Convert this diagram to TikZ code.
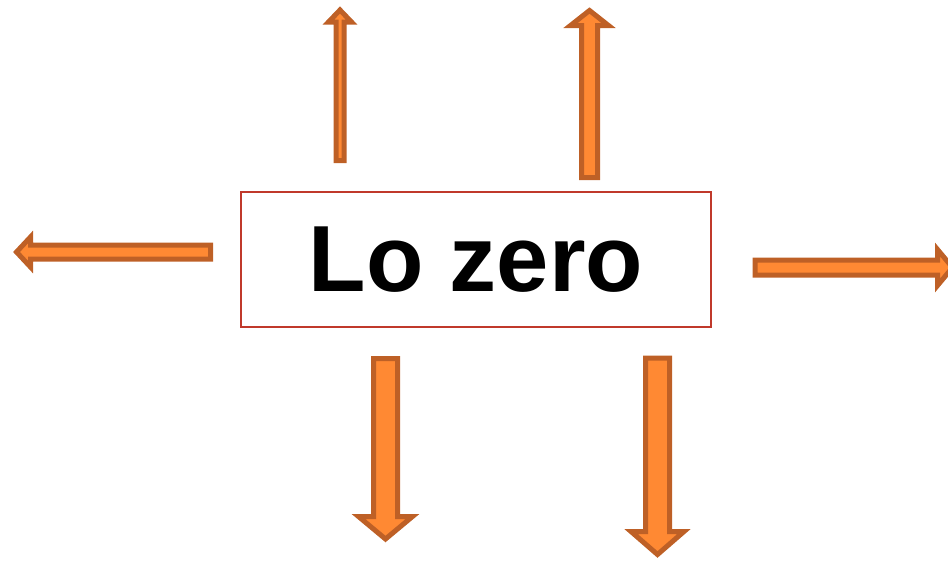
\documentclass[tikz,border=0pt]{standalone}
\usepackage{fontspec}
\setmainfont{Liberation Sans}
\definecolor{arrowfill}{RGB}{255,137,51}
\definecolor{arrowline}{RGB}{190,96,38}
\definecolor{boxline}{RGB}{192,57,43}
\tikzset{
  barrow/.style={fill=arrowfill, draw=arrowline, line width=5, line join=miter},
  lobox/.style={draw=boxline, line width=1.5, fill=white, minimum width=470, minimum height=135,
    inner sep=0, font=\fontsize{94}{100}\selectfont\bfseries},
  % block arrow along +x from the origin: length, shaft width, head width, head length
  pics/blockarrow/.style n args={4}{code={
    \draw[barrow] (0,-#2/2) -- ({#1-#4},-#2/2) -- ({#1-#4},-#3/2) -- (#1,0)
      -- ({#1-#4},#3/2) -- ({#1-#4},#2/2) -- (0,#2/2) -- cycle;
  }}
}
\begin{document}
\begin{tikzpicture}[x=1pt,y=-1pt]
  \useasboundingbox (0,0) rectangle (948,560);
  \node[lobox] (lz) at (476,259.5) {\raisebox{-2pt}{Lo zero}};
  % arrows pointing up
  \pic[rotate=90]  at (340,160.5)   {blockarrow={150.5}{8}{23}{12}};
  \pic[rotate=90]  at (589.5,177.5) {blockarrow={167}{16}{38}{15}};
  % arrows pointing left and right
  \pic[rotate=180] at (210.5,252)   {blockarrow={194}{14}{30}{14}};
  \pic             at (755,267.5)   {blockarrow={197.5}{15}{36}{15}};
  % arrows pointing down
  \pic[rotate=-90] at (385.5,358.5) {blockarrow={180.5}{24}{54}{22.5}};
  \pic[rotate=-90] at (657.5,358)   {blockarrow={196.5}{24}{53}{23}};
\end{tikzpicture}
\end{document}
